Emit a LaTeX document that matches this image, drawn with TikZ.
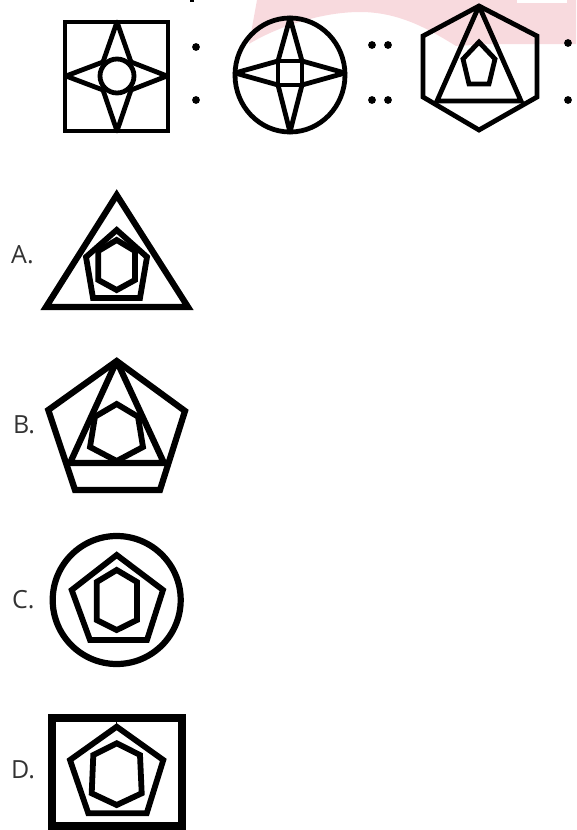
\documentclass[tikz,border=0pt]{standalone}
\usepackage{fontspec}
\setmainfont{Open Sans}
\definecolor{labelgray}{HTML}{333333}
\definecolor{wmpink}{HTML}{F8DADE}
\begin{document}
\begin{tikzpicture}[x=1pt,y=-1pt,
  fig/.style={line width=4.8pt,line join=miter,miter limit=2.2},
  starfig/.style={line width=4.8pt,line join=round},
  opt/.style={line width=6.2pt,line join=miter,miter limit=2.2},
  inner/.style={line width=5.8pt,line join=miter,miter limit=2.2},
  dotmark/.style={fill=black},
  lbl/.style={anchor=west,inner sep=0pt,text=labelgray,font=\fontsize{25}{30}\selectfont}]
\useasboundingbox (0,0) rectangle (576,830);
% watermark
\fill[wmpink] (257,0) -- (249,44) .. controls (275,28) and (320,12) .. (360,12)
  .. controls (400,12) and (430,30) .. (456,46) -- (490,44) -- (576,44) -- (576,0) -- cycle;
\fill[white] (517,0) rectangle (567,3);
\fill[black] (190,0) rectangle (194,1.5);

% ---- figure 1: square with star and circle
\draw[fig] (65,22) rectangle (168,131);
\draw[starfig] (117,22) -- (103,62) -- (66,76) -- (103,90) -- (117,131) -- (131,90) -- (167,76) -- (131,62) -- cycle;
\draw[fig] (117,76) circle[radius=17pt];
\fill[dotmark] (196,47) circle[radius=3.9pt];
\fill[dotmark] (196,100) circle[radius=3.9pt];

% ---- figure 2: circle with star and square
\draw[fig] (290,75) ellipse[x radius=55pt, y radius=57pt];
\draw[starfig] (290,18) -- (278,61) -- (235,73) -- (278,85) -- (290,132) -- (302,85) -- (345,73) -- (302,61) -- cycle;
\draw[fig] (278,61) rectangle (302,85);
\fill[dotmark] (372,45) circle[radius=3.9pt];
\fill[dotmark] (388,45) circle[radius=3.9pt];
\fill[dotmark] (372,100) circle[radius=3.9pt];
\fill[dotmark] (388,100) circle[radius=3.9pt];

% ---- figure 3: hexagon with triangle and pentagon
\draw[fig] (479,6) -- (537,36) -- (537,97) -- (479,130) -- (423,97) -- (423,36) -- cycle;
\draw[fig] (479,6) -- (521,101) -- (437,101) -- cycle;
\draw[fig] (479,42) -- (495,59) -- (489,84) -- (469,84) -- (463,59) -- cycle;
\fill[dotmark] (568,43) circle[radius=3.9pt];
\fill[dotmark] (568,100) circle[radius=3.9pt];

% ---- option A
\node[lbl] (la) at (11,255) {A.};
\draw[opt] (116.7,195) -- (188,307) -- (46,307) -- cycle;
\draw[inner] (116.7,230) -- (147,257) -- (140,298) -- (93,298) -- (86,257) -- cycle;
\draw[inner] (116.7,240) -- (135,251) -- (135,280) -- (116.7,290) -- (98.3,280) -- (98.3,251) -- cycle;

% ---- option B
\node[lbl] (lb) at (13,425) {B.};
\draw[opt] (116.7,361) -- (185,411) -- (160,490) -- (75,490) -- (48.3,410) -- cycle;
\draw[opt] (66,463) -- (168.5,463);
\draw[opt] (116.7,361) -- (164,463) -- (70,463) -- cycle;
\draw[inner] (116.7,404) -- (138,416.7) -- (143,447) -- (116.7,461) -- (90,447) -- (95,416.7) -- cycle;

% ---- option C
\node[lbl] (lc) at (12,600) {C.};
\draw[opt] (116.7,600) circle[radius=64pt];
\draw[inner] (116.7,555) -- (163,590) -- (147,640) -- (90,640) -- (71.7,590) -- cycle;
\draw[inner] (116.7,570) -- (137,582) -- (137,620) -- (116.7,630) -- (96.7,620) -- (96.7,582) -- cycle;

% ---- option D
\node[lbl] (ld) at (11,770) {D.};
\draw[line width=8pt] (51.7,718.3) rectangle (181.7,826);
\draw[line width=1.5pt] (116.7,719) -- (116.7,727);
\draw[inner] (116.7,726.7) -- (163.3,760) -- (146.7,813.3) -- (88.3,813.3) -- (70,760) -- cycle;
\draw[inner] (116.7,743.3) -- (140,755) -- (141.7,793.3) -- (116.7,805) -- (91.7,793.3) -- (93.3,755) -- cycle;
\end{tikzpicture}
\end{document}
